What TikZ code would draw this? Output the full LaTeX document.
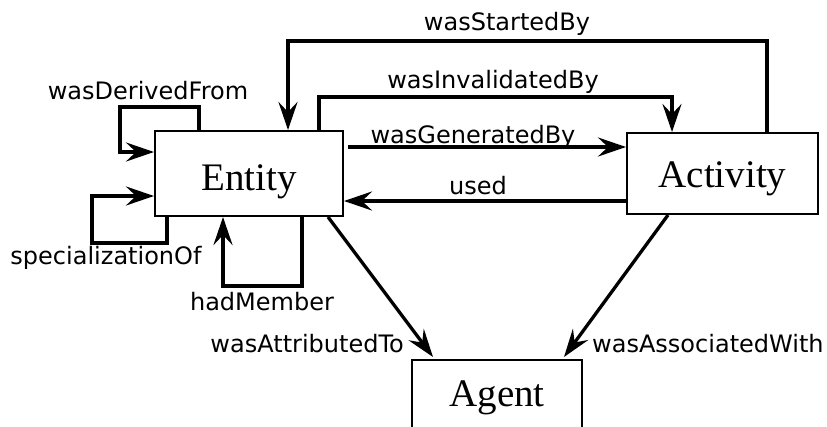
\documentclass[tikz,border=0pt]{standalone}
\usepackage{fontspec}
\setmainfont{Liberation Serif}
\newfontfamily\lblfont{DejaVu Sans}
\usetikzlibrary{arrows.meta}

\tikzset{
  classbox/.style={draw, line width=2pt, inner sep=0pt, fill=white,
    font=\fontsize{39}{44}\selectfont},
  rel/.style={line width=3.3pt,
    -{Stealth[length=28pt, width=19pt, inset=10pt]}},
  lbl/.style={anchor=base, inner sep=0pt, font=\lblfont\fontsize{24}{28}\selectfont}
}

\begin{document}
\begin{tikzpicture}[x=1pt, y=-1pt]
  \useasboundingbox (0,0) rectangle (827,426);

  % the three classes
  \node[classbox, minimum width=188pt, minimum height=85pt,
        text height=40pt, text depth=7pt] (entity) at (249,173.5) {Entity};
  \node[classbox, minimum width=191pt, minimum height=81pt,
        text height=37pt, text depth=10pt] (activity) at (722.5,173.5) {Activity};
  \node[classbox, minimum width=170pt, minimum height=85pt,
        text height=24pt, text depth=17pt] (agent) at (497,402.5) {Agent};

  % relations between entity and activity
  \draw[rel] ([xshift=44.5pt]activity.north) -- ++(0,-91)
             -| ([xshift=39pt]entity.north);
  \draw[rel] ([xshift=70pt]entity.north) -- ++(0,-33)
             -| ([xshift=-50.5pt]activity.north);
  \draw[rel] ([xshift=4pt, yshift=26.5pt]entity.east)
             -- ([yshift=26.5pt]activity.west);
  \draw[rel] ([yshift=-27.5pt]activity.west)
             -- ([yshift=-27.5pt]entity.east);

  % relations towards the agent
  \draw[rel] ([xshift=79pt]entity.south) -- ([xshift=-64pt, yshift=2pt]agent.north);
  \draw[rel] ([xshift=-54.5pt]activity.south) -- ([xshift=67pt, yshift=2pt]agent.north);

  % entity self relations
  \draw[rel] ([xshift=-50pt]entity.north) -- ++(0,-23) -- ++(-79,0)
             |- ([yshift=21.5pt]entity.west);
  \draw[rel] ([xshift=-82pt]entity.south) -- ++(0,26) -- ++(-75,0)
             |- ([yshift=-22.5pt]entity.west);
  \draw[rel] ([xshift=53pt]entity.south) -- ++(0,69)
             -| ([xshift=-26pt]entity.south);

  % relation names
  \node[lbl] (lstarted) at (507,30) {wasStartedBy};
  \node[lbl] (linvalid) at (493,88) {wasInvalidatedBy};
  \node[lbl] (lgen) at (473,143) {wasGeneratedBy};
  \node[lbl] (lused) at (478,194) {used};
  \node[lbl, anchor=base east] (lattr) at (404,352) {wasAttributedTo};
  \node[lbl, anchor=base west] (lassoc) at (592,352) {wasAssociatedWith};
  \node[lbl] (lderived) at (148,99) {wasDerivedFrom};
  \node[lbl] (lspec) at (106,264) {specializationOf};
  \node[lbl] (lmember) at (262,310) {hadMember};
\end{tikzpicture}
\end{document}
